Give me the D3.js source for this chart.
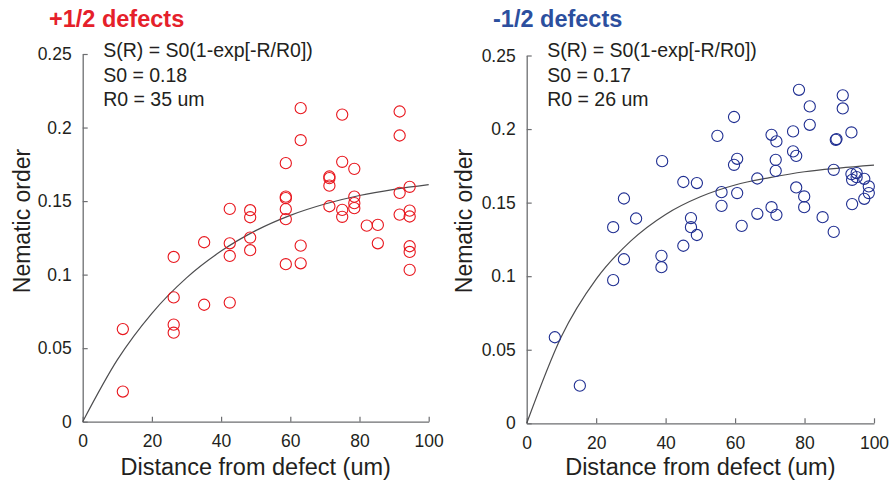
<!DOCTYPE html>
<html>
<head>
<meta charset="utf-8">
<script src="https://cdn.jsdelivr.net/npm/d3@7"></script>
<style>
  body { margin: 0; background: #fff; }
  svg text { font-family: "Liberation Sans", Arial, sans-serif; fill: #231f20; }
</style>
</head>
<body>
<script>
// data
var xTicks = [0, 20, 40, 60, 80, 100];
var yTicks = [0, 0.05, 0.1, 0.15, 0.2, 0.25];
var yTickLabels = ["0", "0.05", "0.1", "0.15", "0.2", "0.25"];

// +1/2 defects
var plusR = [11.6, 11.6, 26.3, 26.3, 26.3, 26.3, 35.1, 35.1, 42.5, 42.5, 42.5, 42.5,
  48.4, 48.4, 48.4, 48.4, 58.7, 58.7, 58.7, 58.7, 58.7, 58.7, 63, 63, 63, 63,
  71.3, 71.3, 71.3, 71.3, 75, 75, 75, 75, 78.5, 78.5, 78.5, 78.5, 82.1, 85.3, 85.3,
  91.6, 91.6, 91.6, 91.6, 94.5, 94.5, 94.5, 94.5, 94.5, 94.5];
var plusS = [0.063, 0.0205, 0.112, 0.0845, 0.066, 0.0605, 0.122, 0.0795, 0.1447, 0.1213, 0.1127, 0.081,
  0.1438, 0.139, 0.1252, 0.1166, 0.1758, 0.153, 0.152, 0.1445, 0.1377, 0.1071, 0.2132, 0.1914, 0.1197, 0.1077,
  0.1667, 0.1656, 0.1605, 0.1465, 0.2088, 0.1767, 0.144, 0.1393, 0.1719, 0.153, 0.1486, 0.1452, 0.1333, 0.1338, 0.1213,
  0.2109, 0.1946, 0.1556, 0.1408, 0.1597, 0.1435, 0.1395, 0.1193, 0.1154, 0.1032];

// -1/2 defects
var minusR = [8.1, 15.3, 24.9, 24.9, 28, 28, 31.5, 38.8, 38.8, 39, 45.1, 45.1, 47.3, 47.3, 49, 49,
  54.9, 56.1, 56.1, 59.7, 59.7, 60.6, 60.6, 61.9, 66.4, 66.4, 70.5, 70.5, 71.9, 71.9, 71.7, 71.7,
  76.7, 76.7, 77.6, 77.6, 78.4, 79.9, 79.9, 81.5, 81.5, 85.2, 88.4, 88.4, 89, 89.2, 91, 91,
  93.5, 93.5, 95, 93.7, 95, 97.2, 98.5, 98.5, 97.2, 93.7];
var minusS = [0.0585, 0.0256, 0.0973, 0.1333, 0.1115, 0.1528, 0.1392, 0.1138, 0.1061, 0.1782, 0.164, 0.1207, 0.1395, 0.1333, 0.1633, 0.128,
  0.1954, 0.1571, 0.1478, 0.2082, 0.1757, 0.1798, 0.1565, 0.1342, 0.1664, 0.1424, 0.1961, 0.1469, 0.1916, 0.1417, 0.1791, 0.1716,
  0.1984, 0.1848, 0.1818, 0.1603, 0.2267, 0.1542, 0.1469, 0.2154, 0.2029, 0.1401, 0.1723, 0.1301, 0.1927, 0.1932, 0.2229, 0.214,
  0.1977, 0.1694, 0.1701, 0.1655, 0.1673, 0.1662, 0.161, 0.1565, 0.1526, 0.149];

// fitted curves as drawn
var fitR = [0, 10, 20, 30, 40, 50, 60, 70, 80, 90, 100];
var plusFit = [0, 0.042, 0.0737, 0.0978, 0.116, 0.1299, 0.1403, 0.148, 0.1538, 0.158, 0.1612];
var minusFit = [0, 0.059, 0.098, 0.124, 0.142, 0.154, 0.162, 0.167, 0.171, 0.1735, 0.1755];

var panels = [
  { title: "+1/2 defects", titleColor: "#e5202a", color: "#e8161d",
    lines: ["S(R) = S0(1-exp[-R/R0])", "S0 = 0.18", "R0 = 35 um"],
    xs: plusR, ys: plusS, fit: plusFit,
    x0: 82.7, x1: 428.7, y0: 421.7, y1: 54, titleX: 49, labelX: 22 },
  { title: "-1/2 defects", titleColor: "#2c4f9e", color: "#1f2e91",
    lines: ["S(R) = S0(1-exp[-R/R0])", "S0 = 0.17", "R0 = 26 um"],
    xs: minusR, ys: minusS, fit: minusFit,
    x0: 526.7, x1: 874, y0: 423.3, y1: 55.5, titleX: 493, labelX: 464 }
];

var svg = d3.select("body").append("svg")
  .attr("width", 893).attr("height", 482);

panels.forEach(function (p) {
  var x = d3.scaleLinear().domain([0, 100]).range([p.x0, p.x1]);
  var y = d3.scaleLinear().domain([0, 0.25]).range([p.y0, p.y1]);
  var g = svg.append("g");

  // axes, ticks pointing inward
  var xAxis = g.append("g").attr("transform", "translate(0," + p.y0 + ")")
    .call(d3.axisBottom(x).tickValues(xTicks).tickSizeInner(-5).tickSizeOuter(0).tickPadding(13));
  var yAxis = g.append("g").attr("transform", "translate(" + p.x0 + ",0)")
    .call(d3.axisLeft(y).tickValues(yTicks).tickSizeInner(-5).tickSizeOuter(0).tickPadding(11)
      .tickFormat(function (d, i) { return yTickLabels[i]; }));
  [xAxis, yAxis].forEach(function (a) {
    a.select(".domain").attr("stroke", "#6d6e71").attr("stroke-width", 1.3);
    a.selectAll(".tick line").attr("stroke", "#6d6e71").attr("stroke-width", 1.2);
    a.selectAll(".tick text").attr("font-size", 17.5).attr("fill", "#231f20")
      .style("font-family", "'Liberation Sans', Arial, sans-serif");
  });

  // fit curve
  var line = d3.line()
    .x(function (d, i) { return x(fitR[i]); })
    .y(function (d) { return y(d); })
    .curve(d3.curveMonotoneX);
  g.append("path").attr("d", line(p.fit))
    .attr("fill", "none").attr("stroke", "#4d4d4f").attr("stroke-width", 1.2);

  // data points
  g.selectAll("circle").data(p.xs).enter().append("circle")
    .attr("cx", function (d) { return x(d); })
    .attr("cy", function (d, i) { return y(p.ys[i]); })
    .attr("r", 5.6)
    .attr("fill", "none")
    .attr("stroke", p.color)
    .attr("stroke-width", 1.1);

  // title
  g.append("text").attr("x", p.titleX).attr("y", 27)
    .attr("font-size", 23.5).attr("font-weight", "bold")
    .style("fill", p.titleColor).text(p.title);

  // fit annotation
  p.lines.forEach(function (t, i) {
    g.append("text").attr("x", p.x0 + 20.5).attr("y", 57 + i * 24.6)
      .attr("font-size", 19.5).text(t);
  });

  // axis labels
  g.append("text").attr("x", (p.x0 + p.x1) / 2).attr("y", 475)
    .attr("text-anchor", "middle").attr("font-size", 23.5)
    .text("Distance from defect (um)");
  g.append("text")
    .attr("transform", "translate(" + (p.labelX + 8) + ",221) rotate(-90)")
    .attr("text-anchor", "middle").attr("font-size", 23)
    .text("Nematic order");
});
</script>
</body>
</html>
